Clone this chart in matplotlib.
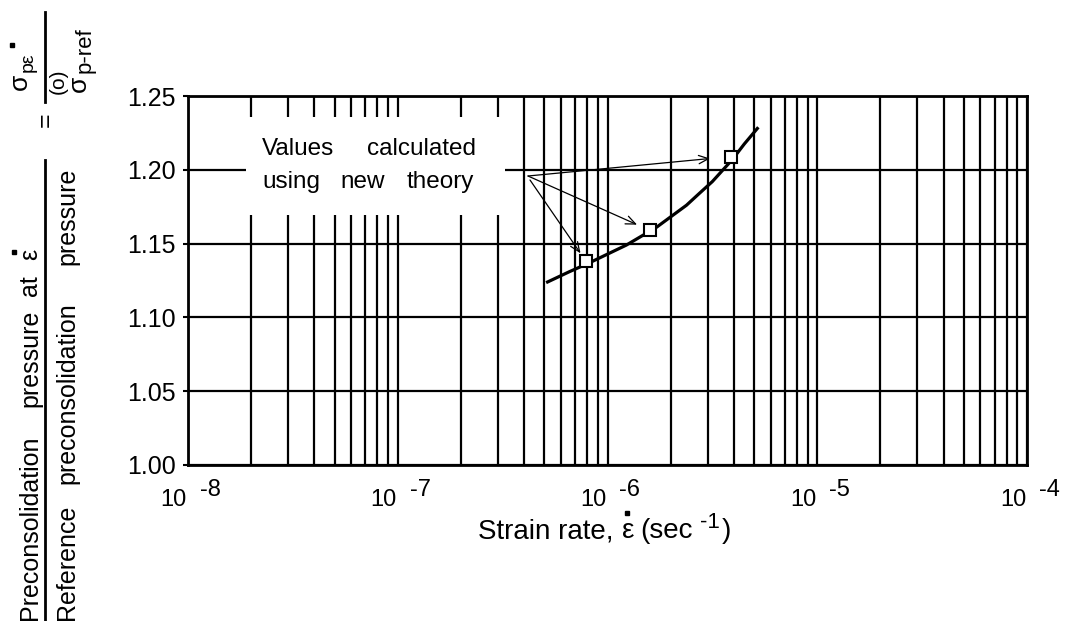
import matplotlib
matplotlib.use('Agg')
import matplotlib.pyplot as plt
from matplotlib.ticker import LogLocator, NullFormatter, FixedLocator
from matplotlib.lines import Line2D
from matplotlib.patches import Rectangle
import numpy as np

plt.rcParams['font.family'] = ['Liberation Sans', 'DejaVu Sans']

# ---------------- data ----------------
curve_x = [5.18e-7, 6.59e-7, 8.2e-7, 1.23e-6, 1.71e-6, 2.38e-6, 2.74e-6,
           3.16e-6, 3.94e-6, 4.49e-6, 5.18e-6]
curve_y = [1.124, 1.131, 1.137, 1.149, 1.161, 1.176, 1.184,
           1.192, 1.207, 1.2175, 1.228]
point_x = [7.9e-7, 1.59e-6, 3.87e-6]
point_y = [1.138, 1.159, 1.209]
y_ticks = [1.00, 1.05, 1.10, 1.15, 1.20, 1.25]
y_tick_labels = ['1.00', '1.05', '1.10', '1.15', '1.20', '1.25']
x_decades = [-8, -7, -6, -5, -4]
note_line1 = ['Values', 'calculated']
note_line2 = ['using', 'new', 'theory']

# ---------------- layout ----------------
W, H = 1069, 621
fig = plt.figure(figsize=(W / 100, H / 100), dpi=100)
AX_L, AX_R, AX_T, AX_B = 188, 1027, 96, 465
ax = fig.add_axes([AX_L / W, 1 - AX_B / H, (AX_R - AX_L) / W, (AX_B - AX_T) / H])


def axfrac(x, y):
    return ((x - AX_L) / (AX_R - AX_L), (AX_B - y) / (AX_B - AX_T))


ax.set_xscale('log')
ax.set_xlim(10.0 ** x_decades[0], 10.0 ** x_decades[-1])
ax.set_ylim(y_ticks[0], y_ticks[-1])
ax.xaxis.set_major_locator(FixedLocator([10.0 ** e for e in x_decades]))
ax.xaxis.set_minor_locator(LogLocator(base=10, subs=np.arange(2, 10), numticks=50))
ax.xaxis.set_major_formatter(NullFormatter())
ax.xaxis.set_minor_formatter(NullFormatter())
ax.tick_params(axis='x', which='both', length=0)
ax.set_yticks(y_ticks)
ax.set_yticklabels(y_tick_labels, fontsize=18)
ax.tick_params(axis='y', length=3.6, width=1.5, pad=5)
ax.grid(True, which='both', axis='x', color='black', lw=1.6)
ax.grid(True, which='major', axis='y', color='black', lw=1.6)
ax.set_axisbelow(True)
for s in ax.spines.values():
    s.set_linewidth(2)

# x tick labels "10 -n"
for e in x_decades:
    ax.annotate('10', xy=(10.0 ** e, 0), xycoords=('data', 'axes fraction'),
                xytext=(-1, -41), textcoords='offset pixels', ha='right', va='baseline',
                fontsize=17, annotation_clip=False)
    ax.annotate('-%d' % (-e), xy=(10.0 ** e, 0), xycoords=('data', 'axes fraction'),
                xytext=(12, -31), textcoords='offset pixels', ha='left', va='baseline',
                fontsize=17, annotation_clip=False)

# white note box
bx0, by0 = axfrac(246, 215)
bx1, by1 = axfrac(505, 117)
ax.add_patch(Rectangle((bx0, by0), bx1 - bx0, by1 - by0, transform=ax.transAxes,
                       facecolor='white', edgecolor='none', zorder=1))
for word, xp in zip(note_line1, [262, 367]):
    ax.text(*axfrac(xp, 155), word, transform=ax.transAxes, fontsize=17.5,
            ha='left', va='baseline', zorder=3)
for word, xp in zip(note_line2, [262, 340, 407]):
    ax.text(*axfrac(xp, 188), word, transform=ax.transAxes, fontsize=17.5,
            ha='left', va='baseline', zorder=3)

# curve and points
ax.plot(curve_x, curve_y, color='black', lw=2.3, zorder=3, solid_joinstyle='round')
ax.plot(point_x, point_y, 's', ms=9, mfc='white', mec='black', mew=1.5, zorder=4)

# arrows
origins = [axfrac(530, 180), axfrac(528, 176), axfrac(528, 176)]
shrinks = [7, 10, 15]
for px, py, org, shr in zip(point_x, point_y, origins, shrinks):
    ax.annotate('', xy=(px, py), xycoords='data', xytext=org, textcoords='axes fraction',
                arrowprops=dict(arrowstyle='->,head_length=0.7,head_width=0.3', lw=0.9,
                                color='black', shrinkA=0, shrinkB=shr), zorder=3)


# ---------------- helpers for figure-pixel text ----------------
def ftext(x, y, s, size, **kw):
    fig.text(x / W, 1 - y / H, s, fontsize=size, ha='left', va='baseline', **kw)


def fdot(x, y, ms=2.5):
    fig.add_artist(Line2D([x / W], [1 - y / H], marker='s', ms=ms, color='black', lw=0))


def vtext(x, y, s, size):
    fig.text(x / W, 1 - y / H, s, rotation=90, rotation_mode='anchor',
             ha='left', va='baseline', fontsize=size)


def vline(x, y0, y1, lw=2):
    fig.add_artist(Line2D([x / W, x / W], [1 - y0 / H, 1 - y1 / H], color='black', lw=lw))


# ---------------- x label ----------------
XL_BASE = 538
ftext(478, XL_BASE, 'Strain rate,', 20)
ftext(622, XL_BASE, '\u03b5', 20)
fdot(627, XL_BASE - 25)
ftext(640, XL_BASE, '(sec', 20)
ftext(700, XL_BASE - 10, '-1', 16)
ftext(722, XL_BASE, ')', 20)

# ---------------- y label (rotated) ----------------
# column 1 (numerator)
vtext(37, 620, 'Preconsolidation', 18)
vtext(37, 407, 'pressure', 18)
vtext(37, 296, 'at', 18)
vtext(37, 260, '\u03b5', 18)
fdot(14, 252)
# main fraction bar
vline(45, 160, 621)
# column 2 (denominator)
vtext(74, 620, 'Reference', 18)
vtext(74, 484, 'preconsolidation', 18)
vtext(74, 265, 'pressure', 18)
# equals sign
fig.text(46 / W, 1 - 120 / H, '=', rotation=90, ha='center', va='center', fontsize=18)
# symbol fraction
vtext(27, 90, '\u03c3', 19)
vtext(33, 72, 'p\u03b5', 14)
fdot(12, 45)
vline(45, 12, 102)
vtext(64, 94, '(o)', 15)
vtext(86, 92, '\u03c3', 19)
vtext(91, 73, 'p-ref', 16)

fig.savefig('out.png', dpi=100)
